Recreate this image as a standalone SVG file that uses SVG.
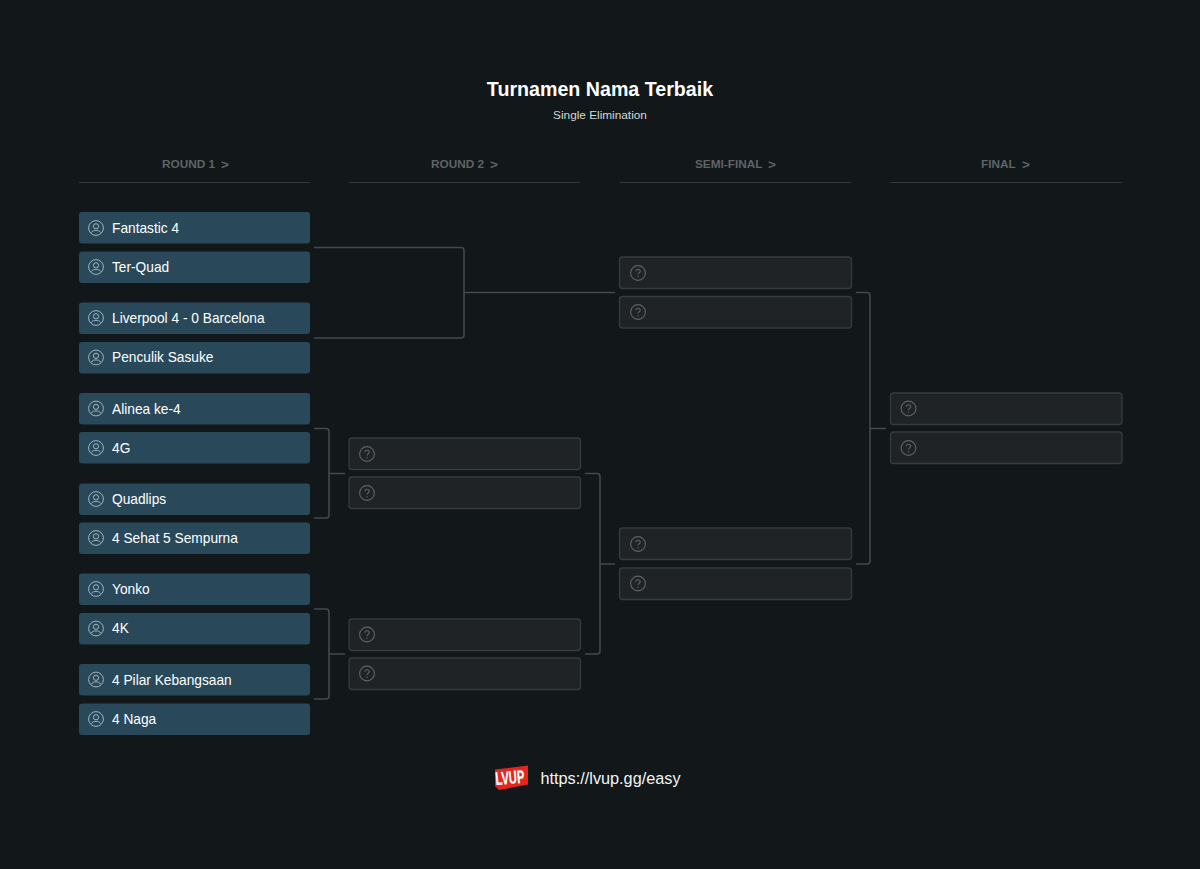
<svg xmlns="http://www.w3.org/2000/svg" width="1200" height="869" viewBox="0 0 1200 869">
<style>
text{font-family:"Liberation Sans",Arial,sans-serif}
.title{font-size:19.650px;font-weight:700;fill:#fff;text-anchor:middle}
.sub{font-size:11.800px;fill:#d5d7d8;text-anchor:middle}
.rh{font-size:11.800px;font-weight:700;fill:#5f6366}
.gt{font-size:13.500px;font-weight:700;fill:#5f6366}
.rule{stroke:#34393c;stroke-width:1;fill:none}
.team rect{fill:#29495a}
.team text{font-size:13.730px;fill:#fff}
.team use{color:#9fb4bd}
.empty rect{fill:#1f2326;stroke:#363b3e;stroke-width:1.300}
.empty use{color:#5e6366}
.conn{fill:none;stroke:#44494c;stroke-width:1.600}
.url{font-size:16.250px;fill:#f4f4f4}
.logo{font-size:18px;font-weight:700;fill:#fff}
</style>
<defs>
<symbol id="user" viewBox="0 0 16 16" overflow="visible"><circle cx="8" cy="8" r="7.400" fill="none" stroke="currentColor" stroke-width="1"/><circle cx="8" cy="6.300" r="2.600" fill="none" stroke="currentColor" stroke-width="1"/><path d="M3.200 12.600C4.400 10.900 6 10.400 8 10.400s3.600.5 4.800 2.200" fill="none" stroke="currentColor" stroke-width="1"/></symbol>
<symbol id="q" viewBox="0 0 16 16" overflow="visible"><circle cx="8" cy="8" r="7.400" fill="none" stroke="currentColor" stroke-width="1.100"/><path d="M5.900 6.200C5.900 4.900 6.900 4.200 8 4.200c1.200 0 2.200.8 2.200 2 0 1.600-2.200 1.700-2.200 3.400" fill="none" stroke="currentColor" stroke-width="1.100"/><circle cx="8" cy="11.700" r=".7" fill="currentColor"/></symbol>
</defs>
<rect width="1200" height="869" fill="#12171a"/>
<g id="header">
<text class="title" x="600" y="96">Turnamen Nama Terbaik</text>
<text class="sub" x="600" y="119">Single Elimination</text>
</g>
<g id="round-headers">
<text class="rh" x="162" y="168">ROUND 1</text><text class="gt" x="221" y="168.500">&gt;</text>
<path class="rule" d="M79 182.500H310"/>
<text class="rh" x="431" y="168">ROUND 2</text><text class="gt" x="490" y="168.500">&gt;</text>
<path class="rule" d="M349 182.500H580"/>
<text class="rh" x="695" y="168">SEMI-FINAL</text><text class="gt" x="768" y="168.500">&gt;</text>
<path class="rule" d="M619.500 182.500H851"/>
<text class="rh" x="981" y="168">FINAL</text><text class="gt" x="1022" y="168.500">&gt;</text>
<path class="rule" d="M890.500 182.500H1122"/>
</g>
<g id="connectors">
<path class="conn" d="M314 247.500H461q3 0 3 3V335q0 3-3 3H314M464 292.500H615"/>
<path class="conn" d="M314 428.500H326q3 0 3 3V515q0 3-3 3H314M329 473.500H345"/>
<path class="conn" d="M314 609H326q3 0 3 3V696q0 3-3 3H314M329 654H345"/>
<path class="conn" d="M585 473.500H597q3 0 3 3V651q0 3-3 3H585M600 564H615"/>
<path class="conn" d="M856 292.500H867q3 0 3 3V561q0 3-3 3H856M870 428.500H886"/>
</g>
<g id="t1" class="team"><rect x="79" y="212" width="231" height="31.500" rx="3"/><use href="#user" x="88" y="220" width="16" height="16"/><text x="112" y="233">Fantastic 4</text></g>
<g id="t2" class="team"><rect x="79" y="251.500" width="231" height="31.500" rx="3"/><use href="#user" x="88" y="259" width="16" height="16"/><text x="112" y="272">Ter-Quad</text></g>
<g id="t3" class="team"><rect x="79" y="302.500" width="231" height="31.500" rx="3"/><use href="#user" x="88" y="310" width="16" height="16"/><text x="112" y="323">Liverpool 4 - 0 Barcelona</text></g>
<g id="t4" class="team"><rect x="79" y="342" width="231" height="31.500" rx="3"/><use href="#user" x="88" y="349.500" width="16" height="16"/><text x="112" y="362">Penculik Sasuke</text></g>
<g id="t5" class="team"><rect x="79" y="393" width="231" height="31.500" rx="3"/><use href="#user" x="88" y="400.500" width="16" height="16"/><text x="112" y="413.500">Alinea ke-4</text></g>
<g id="t6" class="team"><rect x="79" y="432" width="231" height="31.500" rx="3"/><use href="#user" x="88" y="440" width="16" height="16"/><text x="112" y="453">4G</text></g>
<g id="t7" class="team"><rect x="79" y="483.500" width="231" height="31.500" rx="3"/><use href="#user" x="88" y="491" width="16" height="16"/><text x="112" y="504">Quadlips</text></g>
<g id="t8" class="team"><rect x="79" y="522.500" width="231" height="31.500" rx="3"/><use href="#user" x="88" y="530" width="16" height="16"/><text x="112" y="543">4 Sehat 5 Sempurna</text></g>
<g id="t9" class="team"><rect x="79" y="573.500" width="231" height="31.500" rx="3"/><use href="#user" x="88" y="581" width="16" height="16"/><text x="112" y="594">Yonko</text></g>
<g id="t10" class="team"><rect x="79" y="613" width="231" height="31.500" rx="3"/><use href="#user" x="88" y="620.500" width="16" height="16"/><text x="112" y="633">4K</text></g>
<g id="t11" class="team"><rect x="79" y="664" width="231" height="31.500" rx="3"/><use href="#user" x="88" y="671.500" width="16" height="16"/><text x="112" y="684.500">4 Pilar Kebangsaan</text></g>
<g id="t12" class="team"><rect x="79" y="703.500" width="231" height="31.500" rx="3"/><use href="#user" x="88" y="711" width="16" height="16"/><text x="112" y="724">4 Naga</text></g>
<g id="r2-1" class="empty"><rect x="349" y="438" width="231.500" height="31.500" rx="3"/><use href="#q" x="359" y="446" width="16" height="16"/></g>
<g id="r2-2" class="empty"><rect x="349" y="477" width="231.500" height="31.500" rx="3"/><use href="#q" x="359" y="485" width="16" height="16"/></g>
<g id="r2-3" class="empty"><rect x="349" y="619" width="231.500" height="31.500" rx="3"/><use href="#q" x="359" y="626.500" width="16" height="16"/></g>
<g id="r2-4" class="empty"><rect x="349" y="658" width="231.500" height="31.500" rx="3"/><use href="#q" x="359" y="665.500" width="16" height="16"/></g>
<g id="sf-1" class="empty"><rect x="619.500" y="257" width="232" height="31.500" rx="3"/><use href="#q" x="630" y="265" width="16" height="16"/></g>
<g id="sf-2" class="empty"><rect x="619.500" y="296.500" width="232" height="31.500" rx="3"/><use href="#q" x="630" y="304" width="16" height="16"/></g>
<g id="sf-3" class="empty"><rect x="619.500" y="528" width="232" height="31.500" rx="3"/><use href="#q" x="630" y="536" width="16" height="16"/></g>
<g id="sf-4" class="empty"><rect x="619.500" y="568" width="232" height="31.500" rx="3"/><use href="#q" x="630" y="575.500" width="16" height="16"/></g>
<g id="f-1" class="empty"><rect x="890.500" y="393" width="231.500" height="31.500" rx="3"/><use href="#q" x="900.500" y="400.500" width="16" height="16"/></g>
<g id="f-2" class="empty"><rect x="890.500" y="432" width="231.500" height="31.500" rx="3"/><use href="#q" x="900.500" y="440" width="16" height="16"/></g>
<g id="footer">
<path d="M495 769.500L528 765.500V784.500L499 790L495 786Z" fill="#e5261f"/>
<text class="logo" stroke="#fff" stroke-width=".3" transform="translate(496 785) rotate(-5) scale(.62 1)">LVUP</text>
<text class="url" x="540.500" y="784">https://lvup.gg/easy</text>
</g>
</svg>
